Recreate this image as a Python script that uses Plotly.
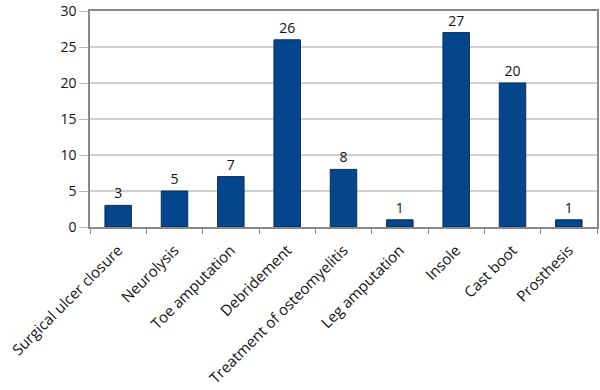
import plotly.graph_objects as go

categories = ["Surgical ulcer closure", "Neurolysis", "Toe amputation", "Debridement",
              "Treatment of osteomyelitis", "Leg amputation", "Insole", "Cast boot", "Prosthesis"]
values = [3, 5, 7, 26, 8, 1, 27, 20, 1]
y_ticks = [0, 5, 10, 15, 20, 25, 30]

font_family = "Open Sans, Lato, sans-serif"

fig = go.Figure(go.Bar(
    x=categories, y=values,
    text=[str(v) for v in values], textposition="outside",
    textfont=dict(family=font_family, size=14, color="#111"),
    cliponaxis=False,
    marker=dict(color="#03468c", line=dict(color="#0b2c5c", width=1)),
))

fig.update_layout(
    width=600, height=390,
    margin=dict(l=90, r=3, t=11, b=163),
    plot_bgcolor="white", paper_bgcolor="white",
    bargap=0.53,
    showlegend=False,
    font=dict(family=font_family, size=15, color="#111"),
)
fig.update_xaxes(
    automargin=False,
    tickangle=-45, tickson="boundaries", ticks="outside", ticklen=5,
    ticklabelstandoff=7,
    tickcolor="#888", showline=True, linecolor="#888", linewidth=1.5, mirror=True,
    tickfont=dict(family=font_family, size=15, color="#111"),
)
fig.update_yaxes(
    automargin=False,
    range=[0, 30], tickvals=y_ticks, ticks="outside", ticklen=9, tickcolor="#bbb",
    showgrid=True, gridcolor="#cfcfcf", gridwidth=1.5,
    showline=True, linecolor="#888", linewidth=1.5, mirror=True,
    zeroline=False,
    tickfont=dict(family=font_family, size=14, color="#111"),
)

fig.write_html("out.html", config={"displayModeBar": False},
               post_script="document.body.style.margin='0';document.body.style.overflow='hidden';")
